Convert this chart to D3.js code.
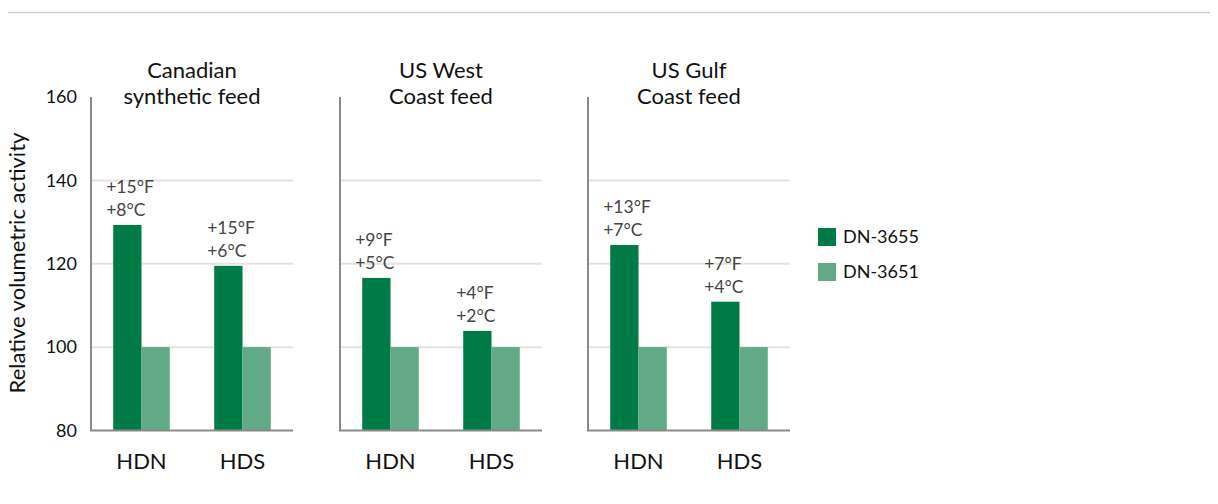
<!DOCTYPE html>
<html><head><meta charset="utf-8">
<script src="https://cdn.jsdelivr.net/npm/d3@7"></script>
<style>body{margin:0;background:#fff}svg{display:block}text{font-family:"Lato","Open Sans",sans-serif}</style>
</head><body><svg id="c" width="1218" height="504"></svg>
<script>
const panels = [["Canadian","synthetic feed"],["US West","Coast feed"],["US Gulf","Coast feed"]];
const categories = ["HDN","HDS"];
const seriesNames = ["DN-3655","DN-3651"];
const dn3655 = [[129.3,119.5],[116.6,103.9],[124.5,110.9]];
const dn3651 = [[100,100],[100,100],[100,100]];
const annotF = [["+15°F","+15°F"],["+9°F","+4°F"],["+13°F","+7°F"]];
const annotC = [["+8°C","+6°C"],["+5°C","+2°C"],["+7°C","+4°C"]];
const yTicks = [80,100,120,140,160];
const colors = ["#007b45","#62aa86"];

const svg = d3.select("#c");
svg.append("line").attr("x1",8).attr("x2",1210).attr("y1",12.5).attr("y2",12.5).attr("stroke","#cfcfcf").attr("stroke-width",1.5);

const y = d3.scaleLinear().domain([80,160]).range([430.5,97]);
const panelX = [91,340,588];
const panelW = 202;

// y tick labels
svg.append("g").selectAll("text").data(yTicks).join("text")
  .attr("x",77).attr("y",d=>y(d)).attr("dy","0.35em").attr("text-anchor","end")
  .attr("font-size",18).attr("fill","#111").text(d=>d);

svg.append("text").attr("transform","translate(25,263) rotate(-90)").attr("text-anchor","middle")
  .attr("font-size",22).attr("fill","#111").text("Relative volumetric activity");

panels.forEach((title,pi)=>{
  const g = svg.append("g").attr("transform",`translate(${panelX[pi]},0)`);
  const x0 = d3.scaleBand().domain(categories).range([0,panelW]).paddingInner(0.44).paddingOuter(0.22);
  const x1 = d3.scaleBand().domain(seriesNames).range([0,x0.bandwidth()]);
  // grid
  g.selectAll("line.grid").data(yTicks.filter(t=>t>80 && t<160)).join("line")
    .attr("x1",0).attr("x2",panelW).attr("y1",d=>y(d)).attr("y2",d=>y(d))
    .attr("stroke","#e3e3e3").attr("stroke-width",2);
  // bars
  categories.forEach((cat,ci)=>{
    const vals=[dn3655[pi][ci],dn3651[pi][ci]];
    g.selectAll(null).data(vals).join("rect")
      .attr("x",(d,si)=>x0(cat)+x1(seriesNames[si]))
      .attr("width",x1.bandwidth())
      .attr("y",d=>y(d)).attr("height",d=>y(80)-y(d))
      .attr("fill",(d,si)=>colors[si]);
    const lx = x0(cat)-7, ty = y(vals[0])-9;
    g.append("text").attr("x",lx).attr("y",ty-23).attr("font-size",17.5).attr("fill","#444").text(annotF[pi][ci]);
    g.append("text").attr("x",lx).attr("y",ty).attr("font-size",17.5).attr("fill","#444").text(annotC[pi][ci]);
    g.append("text").attr("x",x0(cat)+x0.bandwidth()/2).attr("y",469).attr("text-anchor","middle")
      .attr("font-size",22).attr("fill","#111").text(cat);
  });
  // axes
  g.append("line").attr("x1",0).attr("x2",0).attr("y1",97).attr("y2",y(80)).attr("stroke","#8a8a8a").attr("stroke-width",2);
  g.append("line").attr("x1",-1).attr("x2",panelW).attr("y1",y(80)).attr("y2",y(80)).attr("stroke","#8a8a8a").attr("stroke-width",2);
  // title
  title.forEach((t,i)=>g.append("text").attr("x",panelW/2).attr("y",78+i*26).attr("text-anchor","middle")
    .attr("font-size",22).attr("fill","#111").text(t));
});

// legend
seriesNames.forEach((s,i)=>{
  svg.append("rect").attr("x",818).attr("y",228+i*35).attr("width",18).attr("height",18).attr("fill",colors[i]);
  svg.append("text").attr("x",843).attr("y",237+i*35).attr("dy","0.35em").attr("font-size",18).attr("fill","#111").text(s);
});
</script></body></html>
